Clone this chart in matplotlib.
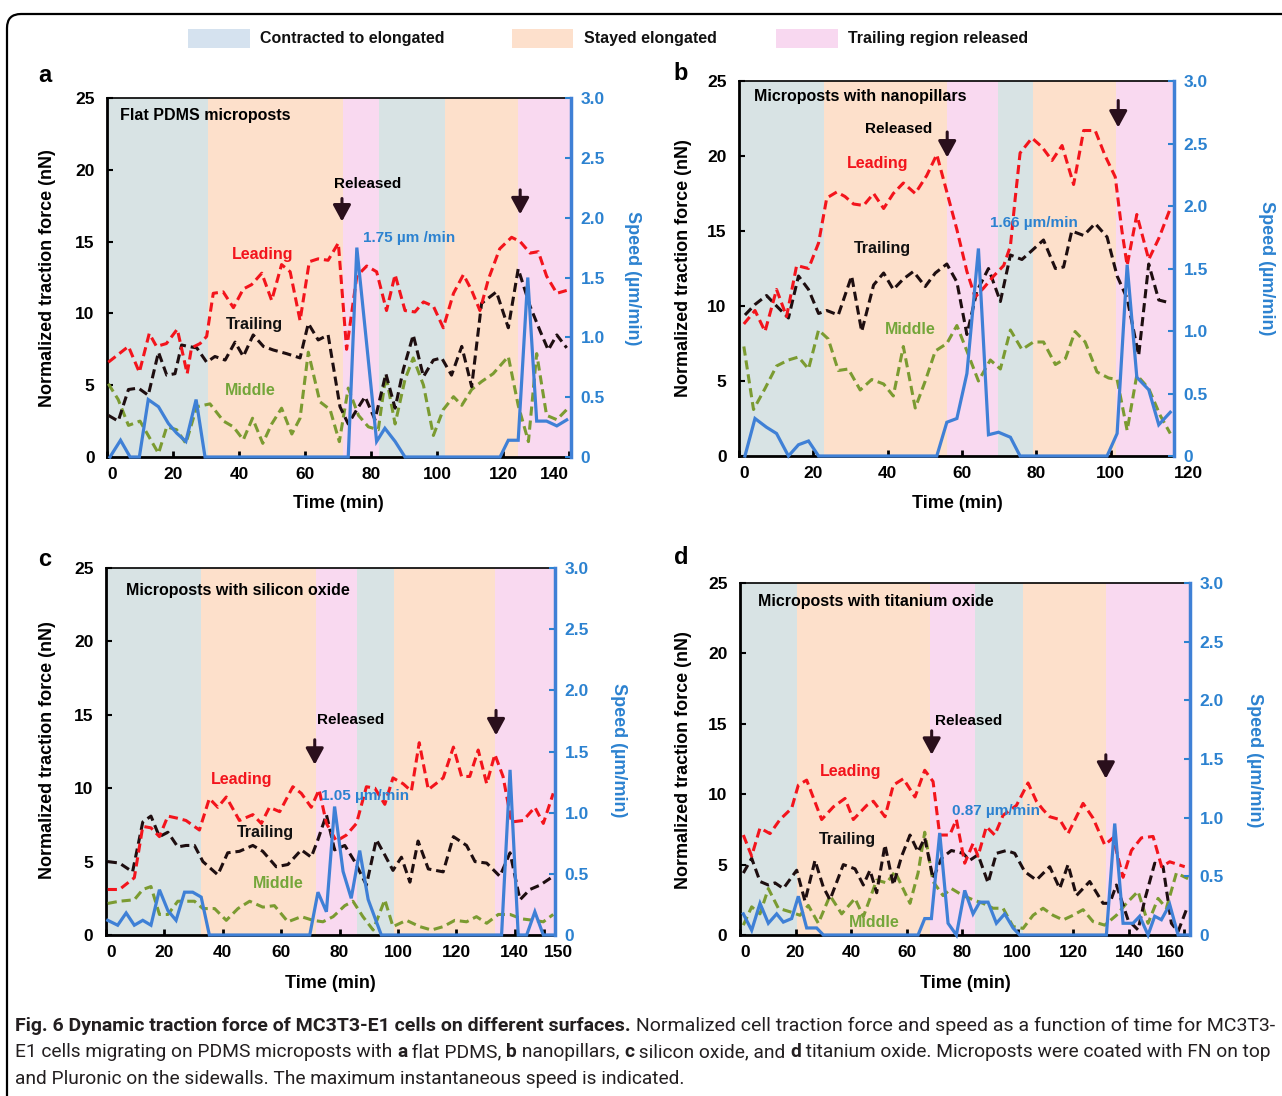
import numpy as np
import matplotlib
matplotlib.use('Agg')
import matplotlib.pyplot as plt
from matplotlib.patches import Rectangle, FancyBboxPatch
from matplotlib.transforms import IdentityTransform
from matplotlib import font_manager

# ---------------------------------------------------------------- data
# panel a : flat PDMS microposts
lead_a_t = [0.4, 6.5, 9.8, 12.8, 15, 18, 21.3, 24.3, 25.6, 28.2, 30.2, 32.2, 35.2, 38.3, 41.3, 43.8, 46.9,
            49.9, 52.9, 55.5, 58.5, 61.3, 64, 67, 70.1, 72.6, 75.7, 78.7, 81.7, 84.7, 87.3, 90.3, 93.3, 95.9,
            98.9, 101.9, 105, 108, 110.5, 113, 115.6, 119, 122.6, 125.2, 128.2, 130.7, 133.2, 136.3, 139.3]
lead_a = [6.6, 7.7, 5.9, 8.6, 7.7, 7.9, 8.9, 5.8, 7.6, 7.9, 8.4, 11.4, 11.5, 10.4, 11.7, 12.0, 12.8, 10.9,
          13.4, 12.9, 9.5, 13.6, 13.8, 13.7, 14.9, 7.5, 12.6, 13.3, 12.9, 10.2, 12.7, 10.2, 10.1, 10.8, 10.5,
          9.0, 11.4, 12.7, 11.6, 10.2, 12.4, 14.5, 15.3, 15.0, 14.2, 14.3, 12.6, 11.4, 11.6]
trail_a_t = [0.4, 3.4, 6.5, 9.5, 12.5, 15.6, 18.1, 20.6, 22.6, 24.6, 27.2, 30.2, 32.7, 35.8, 38.8, 41.3, 44.3,
             47.4, 50.4, 54.4, 58.5, 61, 64, 67, 70.6, 73.1, 75.7, 78.2, 81.2, 84.5, 87.3, 89.8, 92.8, 95.9,
             98.9, 101.4, 104.4, 107.5, 110.5, 113.5, 118, 121.6, 124.6, 128.2, 131.2, 133.7, 136.3, 139.3]
trail_a = [2.9, 2.5, 4.7, 4.8, 4.3, 7.3, 5.7, 5.8, 7.8, 7.7, 7.6, 6.6, 7.0, 6.75, 8.0, 7.0, 8.5, 7.7, 7.45,
           7.2, 6.9, 9.3, 8.15, 8.5, 3.5, 2.3, 3.3, 4.2, 2.6, 5.8, 3.4, 6.1, 8.5, 5.6, 6.75, 6.9, 5.7, 7.7,
           4.9, 10.7, 11.5, 9.0, 13.1, 10.5, 8.8, 7.45, 8.5, 7.6]
mid_a_t = [0.4, 3.4, 6.5, 10, 12.5, 15.6, 18.1, 21.1, 23.9, 27.2, 31.2, 35.3, 38.3, 41.3, 44.1, 47.2, 49.9,
           52.9, 56, 58.5, 61, 64.5, 67.6, 70.4, 73.1, 76.2, 79.2, 82.2, 84.5, 87.3, 90.3, 92.8, 95.9, 98.9,
           101.9, 105, 107.5, 110.5, 113.5, 117, 121.6, 124.6, 127.7, 130.2, 133.2, 136.3, 139.3]
mid_a = [5.1, 4.0, 2.2, 2.5, 1.5, 0.25, 2.1, 1.9, 0.95, 3.5, 3.7, 2.5, 2.1, 1.2, 2.7, 0.95, 2.3, 3.4, 1.6,
         2.7, 7.3, 3.85, 3.3, 1.07, 4.8, 2.9, 2.1, 1.9, 5.7, 2.3, 5.4, 6.9, 5.0, 1.5, 3.3, 4.2, 3.6, 4.7,
         5.25, 5.8, 7.0, 3.6, 1.07, 7.2, 2.9, 2.6, 3.3]
speed_a_t = [0.9, 4.1, 7, 9.8, 12.5, 15.6, 18.6, 21.1, 23.9, 27, 29.7, 73.1, 75.7, 81.7, 84.2, 87.3, 90.3,
             119.1, 121.6, 124.6, 127.5, 130.2, 133.2, 136.3, 139.3]
speed_a = [0, 0.14, 0, 0, 0.48, 0.42, 0.28, 0.2, 0.13, 0.48, 0, 0, 1.75, 0.13, 0.24, 0.13, 0, 0, 0.14, 0.14,
           1.5, 0.3, 0.3, 0.26, 0.31]
bands_a = [0, 30.6, 71.5, 82.4, 102.4, 124.5, 140.6]

# panel b : nanopillars
lead_b_t = [1.3, 4.3, 7, 10.1, 12.8, 15.5, 18.7, 21.4, 23.6, 26.3, 28.5, 30.8, 33.5, 36.2, 38.9, 41.5, 44.2,
            47.4, 50.5, 53.2, 55.9, 58.6, 61.3, 63.5, 65.8, 68.5, 71.2, 73, 74.3, 75.6, 78.8, 81.5, 84.2,
            86.9, 90, 92.7, 95.8, 98.5, 101.2, 103, 104.4, 107, 110.2, 112.9, 116]
lead_b = [8.8, 9.7, 8.3, 11.1, 9.3, 12.7, 12.5, 14.2, 17.2, 17.6, 17.3, 16.8, 16.7, 17.5, 16.5, 17.5, 18.2,
          17.5, 18.7, 20.1, 17.6, 15.1, 12.3, 10.6, 11.2, 12.0, 12.7, 14.0, 17.2, 20.2, 21.2, 20.6, 19.7,
          20.7, 18.1, 21.7, 21.7, 20.0, 18.6, 15.0, 12.7, 16.1, 13.1, 14.5, 16.5]
trail_b_t = [1.6, 4.3, 7.4, 10.1, 13.3, 16, 18.7, 21.4, 23.6, 26.7, 30.3, 33, 36.2, 38.9, 41.5, 44.2, 46.9,
             50.1, 52.8, 55.9, 58.6, 61.3, 64, 67.1, 70.3, 73, 76.1, 78.8, 81.9, 85.1, 87.3, 89.5, 92.7,
             95.8, 99, 101.7, 104.4, 107.5, 110.2, 112.9, 116]
trail_b = [9.4, 10.1, 10.7, 10.0, 9.2, 12.0, 11.1, 9.5, 9.7, 9.4, 12.0, 8.3, 11.4, 12.2, 11.1, 11.8, 12.3,
           11.3, 12.2, 12.8, 11.6, 8.1, 11.0, 12.5, 10.3, 13.4, 13.1, 13.7, 14.4, 12.5, 12.6, 15.0, 14.7,
           15.5, 14.6, 12.0, 10.5, 6.7, 12.8, 10.4, 10.2]
mid_b_t = [1.3, 3.9, 7, 10.1, 13.3, 16, 18.7, 21.4, 24, 26.7, 29.4, 32.6, 35.7, 38.9, 41.5, 44.2, 47.4, 50.1,
           52.8, 55.9, 58.6, 61.3, 64.4, 67.6, 70.3, 73, 76.1, 79.2, 81.9, 85.1, 87.8, 90.4, 93.1, 96.3,
           99.4, 101.7, 104.4, 107, 110.2, 113.3, 116]
mid_b = [7.3, 3.1, 4.5, 6.0, 6.4, 6.6, 5.8, 8.4, 7.8, 5.7, 5.8, 4.4, 5.1, 4.8, 4.0, 7.3, 3.2, 5.0, 7.0, 7.5,
         8.7, 7.0, 5.0, 6.4, 5.8, 8.4, 7.1, 7.6, 7.6, 6.1, 6.5, 8.3, 7.6, 5.6, 5.2, 5.1, 1.7, 5.4, 4.5, 2.7,
         1.5]
speed_b_t = [1.6, 4.3, 7.4, 10.1, 13.3, 16, 18.7, 21.4, 53.2, 55.9, 58.6, 61.3, 64.4, 67.1, 69.8, 73, 75.6,
             99, 101.7, 104.4, 107, 110.2, 112.9, 116]
speed_b = [0, 0.30, 0.23, 0.18, 0, 0.09, 0.12, 0, 0, 0.27, 0.30, 0.66, 1.66, 0.17, 0.19, 0.15, 0, 0, 0.18,
           1.53, 0.63, 0.53, 0.25, 0.35]
bands_b = [0, 22.9, 56, 69.7, 79.1, 101.5, 117]

# panel c : silicon oxide
lead_c_t = [0.6, 4.6, 9.7, 12.6, 15.4, 18.3, 21.2, 24.6, 27.4, 32, 35.4, 38.3, 41.2, 45.7, 50.3, 53.2, 56,
            59.5, 64, 66.9, 70.3, 73, 75.5, 78.9, 82.3, 85.8, 89.2, 92.1, 95.5, 98.3, 101.8, 104.6, 107.3,
            110.4, 115.5, 119, 121.8, 124.6, 127.5, 130.4, 133.2, 136, 138.9, 142.9, 146.9, 149.8, 153.2]
lead_c = [3.1, 3.1, 3.9, 7.4, 7.3, 6.7, 8.1, 7.95, 7.8, 7.15, 9.3, 8.7, 9.4, 7.8, 8.2, 7.6, 8.7, 8.4, 10.1,
          9.65, 8.7, 9.9, 7.6, 6.4, 6.8, 7.6, 10.1, 10.0, 8.9, 10.7, 10.3, 9.8, 13.1, 9.9, 10.7, 12.8, 10.8,
          10.8, 12.6, 10.3, 12.3, 10.8, 7.7, 7.8, 8.7, 7.6, 9.65]
trail_c_t = [0.6, 4.6, 9.1, 12.6, 15.4, 18.3, 21.2, 24.6, 27.4, 30.3, 33.2, 38.3, 41.7, 45.7, 50.3, 53.7,
             58.3, 62.3, 66.9, 70.3, 72.6, 75.5, 78.3, 81.8, 85.2, 89.2, 92.6, 95.5, 98.3, 101.2, 104.1,
             106.9, 110.4, 115.5, 119, 123.5, 126.4, 130.4, 134.9, 138.4, 141.8, 145.2, 148.7, 153.2]
trail_c = [5.0, 4.9, 4.3, 7.7, 8.1, 6.7, 7.0, 6.0, 6.1, 6.1, 5.0, 4.1, 5.6, 5.7, 6.1, 5.7, 4.65, 4.8, 5.8,
           5.3, 6.5, 8.2, 5.8, 6.1, 5.0, 3.4, 6.5, 5.45, 4.4, 5.3, 3.6, 6.4, 4.5, 4.3, 6.7, 6.1, 5.0, 4.9,
           4.0, 5.6, 2.4, 3.1, 3.4, 4.0]
mid_c_t = [0.6, 4.6, 9.7, 12.6, 15.4, 18.3, 21.2, 24.6, 27.4, 30.3, 33.2, 37.2, 41.2, 45.2, 49.2, 53.7, 57.7,
           62.3, 66.9, 70.9, 74.3, 77.8, 81.8, 84.6, 88, 91.5, 95.5, 98.3, 102.9, 107.5, 111.5, 115.5, 119.5,
           123.5, 126.9, 130.4, 134.4, 138.4, 142.4, 146.4, 149.8, 153.2]
mid_c = [2.15, 2.3, 2.4, 3.1, 3.3, 1.4, 1.4, 2.3, 2.3, 2.3, 1.8, 1.8, 1.0, 1.8, 2.3, 1.9, 2.0, 0.9, 1.25,
         1.0, 0.9, 1.25, 2.0, 2.3, 1.25, 0.34, 2.4, 0.57, 1.0, 0.57, 0.34, 0.57, 1.0, 0.9, 1.25, 0.8, 1.4,
         1.4, 1.1, 1.0, 0.9, 1.4]
speed_c_t = [0.6, 4, 6.9, 9.7, 12.6, 15.4, 18.3, 21.2, 24, 26.9, 29.7, 32.6, 35.4, 69.8, 72.6, 75.5, 78.3,
             81.2, 84, 86.9, 89.8, 94.3, 135.5, 138.4, 141.2, 144.1, 146.9, 149.8, 153.2]
speed_c = [0.12, 0.08, 0.18, 0.08, 0.12, 0.08, 0.37, 0.2, 0.12, 0.35, 0.35, 0.31, 0, 0, 0.35, 0.19, 1.05,
           0.52, 0.3, 0.69, 0.29, 0, 0, 1.35, 0, 0, 0.19, 0, 0]
bands_c = [0, 32.6, 72, 86, 98.6, 133.4, 153.8]

# panel d : titanium oxide
lead_d_t = [1.2, 4.2, 7.2, 10.8, 14.4, 18.6, 21, 24, 29.4, 33.6, 37.8, 40.8, 45.6, 48, 52.2, 55.2, 58.8, 63,
            66.5, 69.5, 71.9, 75.5, 77.9, 80.9, 83.9, 85.7, 88.7, 91.7, 94.7, 99.5, 103.7, 106.7, 109.1,
            111.5, 115.1, 118.1, 123.5, 127.1, 131.3, 134.3, 137.9, 140.9, 144.5, 148.7, 151.8, 154.7, 160.1]
lead_d = [7.1, 5.6, 7.6, 7.2, 8.2, 9.0, 10.65, 11.0, 8.2, 9.1, 9.7, 8.2, 9.2, 9.5, 8.4, 10.65, 11.1, 9.8,
          11.7, 10.9, 7.1, 7.1, 8.2, 5.1, 6.5, 5.6, 7.7, 7.1, 8.5, 9.2, 10.8, 9.5, 8.9, 8.4, 8.2, 7.2, 9.35,
          8.3, 6.4, 6.9, 4.1, 6.0, 6.9, 7.0, 4.85, 5.2, 4.85]
trail_d_t = [1.2, 4.2, 7.2, 10.2, 12.6, 15.6, 20.4, 23.4, 27, 30, 32.4, 37.2, 41.4, 44.4, 46.8, 49.2, 52.2,
             55.2, 58.2, 61.2, 64.1, 66.5, 69.5, 72.5, 76.1, 80.3, 82.7, 85.7, 89.3, 92.3, 95.9, 98.9,
             102.5, 106.7, 111.5, 115.1, 118.1, 121.1, 125.9, 130.7, 133.1, 135.5, 139.7, 143.3, 145.7,
             149.3, 152.3, 155.3, 157.7, 160.7]
trail_d = [4.4, 5.45, 3.8, 3.55, 3.7, 3.3, 4.6, 2.4, 5.3, 3.4, 2.5, 5.0, 4.7, 3.55, 4.6, 3.0, 6.4, 3.55,
           5.6, 7.1, 5.9, 6.9, 4.0, 5.45, 6.0, 5.8, 5.3, 5.7, 3.7, 5.8, 6.0, 5.8, 4.5, 3.9, 4.85, 3.3, 5.0,
           2.8, 3.8, 2.25, 2.25, 3.55, 1.07, 0.36, 2.5, 5.1, 4.85, 0.83, 0.24, 1.8]
mid_d_t = [1.2, 4.2, 7.2, 10.2, 13.8, 18, 21.6, 24.6, 28.2, 32.4, 36.6, 41.4, 44.4, 49.2, 52.8, 55.8, 61.2,
           64.1, 66.5, 69.5, 73.1, 76.1, 80.3, 83.9, 87.5, 91.1, 94.7, 98.3, 101.9, 105.5, 109.1, 112.7,
           116.3, 119.9, 123.5, 127.1, 131.3, 135.5, 139.1, 143.3, 146.9, 150.5, 153.5, 157.1, 161.3]
mid_d = [0.7, 2.0, 1.5, 3.3, 1.9, 1.65, 1.4, 2.1, 0.83, 2.8, 1.5, 2.6, 1.3, 3.9, 3.7, 4.5, 2.25, 4.4, 7.3,
         3.8, 2.8, 3.3, 2.8, 2.5, 2.25, 1.9, 1.9, 0.6, 0.47, 1.4, 1.9, 1.4, 1.07, 1.4, 1.8, 0.95, 0.7, 1.4,
         2.25, 3.1, 0.83, 2.6, 1.9, 4.4, 4.0]
speed_d_t = [1.2, 4.2, 7.2, 10.2, 13.2, 15.6, 18.6, 21, 24, 27.6, 30, 64.1, 66.5, 68.9, 71.9, 74.9, 77.9,
             80.9, 83.9, 86.3, 89.3, 92.3, 95.3, 98.3, 100.7, 131.9, 134.9, 137.9, 141.5, 143.9, 146.9,
             149.3, 151.7, 154.7, 157.7, 161.3]
speed_d = [0.18, 0.04, 0.27, 0.1, 0.18, 0.11, 0.14, 0.33, 0.06, 0.06, 0, 0, 0.14, 0.14, 0.87, 0.1, 0, 0.38,
           0.18, 0.28, 0.28, 0.1, 0.18, 0.06, 0, 0, 0.95, 0.1, 0.1, 0.16, 0, 0.16, 0.13, 0.26, 0, 0]
bands_d = [0, 20.7, 68.3, 84.7, 102, 131.9, 162]

band_kinds = ['c', 's', 'r', 'c', 's', 'r']
legend_labels = ['Contracted to elongated', 'Stayed elongated', 'Trailing region released']
force_ticks = [0, 5, 10, 15, 20, 25]
speed_ticks = [0, 0.5, 1.0, 1.5, 2.0, 2.5, 3.0]
speed_ticklabels = ['0', '0.5', '1.0', '1.5', '2.0', '2.5', '3.0']
titles = ['Flat PDMS microposts', 'Microposts with nanopillars',
          'Microposts with silicon oxide', 'Microposts with titanium oxide']
max_speed_labels = ['1.75 \u00b5m /min', '1.66 \u00b5m/min', '1.05 \u00b5m/min', '0.87 \u00b5m/min']

# ---------------------------------------------------------------- style
W, H = 1282, 1096
BAND = {'c': '#d8e3e4', 's': '#fde0cb', 'r': '#f9d9f0'}
LEG = ['#d5e2ef', '#fde0cc', '#f8d8f0']
RED = '#f3141c'
BLK = '#1e0e10'
GRN = '#7b9b31'
GRN_T = '#74a63a'
BLUE = '#3f80d6'
BLUE_T = '#2c82d0'
ARROW = '#2a0f1c'

plt.rcParams['font.family'] = ['Liberation Sans', 'DejaVu Sans']
plt.rcParams['font.weight'] = 'bold'

fig = plt.figure(figsize=(W / 100, H / 100), dpi=100)


def frect(l, t, r, b):
    return [l / W, 1 - b / H, (r - l) / W, (b - t) / H]


def fpt(x, y):
    return x / W, 1 - y / H


def font_ok(name):
    try:
        font_manager.findfont(font_manager.FontProperties(family=name), fallback_to_default=False)
        return True
    except Exception:
        return False


# caption layer (bottom-most)
cap_ax = fig.add_axes([0, 0, 1, 1])
cap_ax.set_axis_off()

# outer rounded frame
frame = FancyBboxPatch((7, -40), 1340, H - 14 + 40, boxstyle='round,pad=0,rounding_size=14',
                       transform=IdentityTransform(), fc='none', ec='black', lw=1.6)
fig.add_artist(frame)

# legend
for (l, r), col, lab, tx in zip([(188, 250), (512, 573), (776, 838)], LEG, legend_labels, [260, 584, 848]):
    fig.add_artist(Rectangle(fpt(l, 48), (r - l) / W, 19 / H, transform=fig.transFigure, fc=col, ec='none'))
    fig.text(*fpt(tx, 39), lab, fontsize=11.5, fontweight='bold', va='center', ha='left', color='#111111')


def make_panel(box, xlim, xticks, xticklabels, last_ha, edges, lead, trail, mid, speed):
    ax = fig.add_axes(frect(*box))
    ax.set_xlim(*xlim)
    ax.set_ylim(0, 25)
    for i, k in enumerate(band_kinds):
        ax.axvspan(edges[i], edges[i + 1], color=BAND[k], lw=0, zorder=0)
    dash = (0, (3, 1.6))
    ax.plot(mid[0], mid[1], color=GRN, lw=2.2, ls=dash, zorder=3)
    ax.plot(trail[0], trail[1], color=BLK, lw=2.2, ls=dash, zorder=3)
    ax.plot(lead[0], lead[1], color=RED, lw=2.2, ls=dash, zorder=3)
    ax.set_yticks(force_ticks)
    ax.tick_params(axis='y', direction='in', length=4, width=1.5, pad=9, labelsize=12.5, colors='black')
    ax.set_xticks(xticks, xticklabels)
    ax.tick_params(axis='x', direction='in', length=4, width=2, pad=7, labelsize=12.5, colors='black')
    labs = ax.get_xticklabels()
    labs[0].set_ha('left')
    labs[-1].set_ha(last_ha)
    for lab in ax.get_xticklabels() + ax.get_yticklabels():
        lab.set_fontweight('bold')
    ax.spines['right'].set_visible(False)
    ax.spines['left'].set_linewidth(2)
    ax.spines['bottom'].set_linewidth(2)
    ax.spines['top'].set_linewidth(1.2)

    ax2 = ax.twinx()
    ax2.set_ylim(0, 3)
    ax2.plot(speed[0], speed[1], color=BLUE, lw=2.3, clip_on=False, zorder=4, solid_joinstyle='miter')
    ax2.set_yticks(speed_ticks, speed_ticklabels)
    ax2.tick_params(axis='y', direction='in', length=4, width=1.5, pad=7, labelsize=12.5, colors=BLUE_T)
    for lab in ax2.get_yticklabels():
        lab.set_fontweight('bold')
    for s in ['left', 'top', 'bottom']:
        ax2.spines[s].set_visible(False)
    ax2.spines['right'].set_color(BLUE)
    ax2.spines['right'].set_linewidth(2.5)
    return ax, ax2


def annotate_panel(ax, title, title_xy, rel_xy, arrows, lead_xy, trail_xy, mid_xy, spd_xy, spd_txt):
    ax.text(*title_xy, title, fontsize=11.5, fontweight='bold', ha='left', va='center', zorder=6)
    ax.text(*rel_xy, 'Released', fontsize=11, fontweight='bold', ha='center', va='center', zorder=6)
    for (t, y0, y1) in arrows:
        ax.annotate('', xy=(t, y1), xytext=(t, y0),
                    arrowprops=dict(arrowstyle='-|>,head_length=0.55,head_width=0.3', color=ARROW,
                                    lw=2.2, shrinkA=0, shrinkB=0, mutation_scale=18), zorder=6)
    ax.text(*lead_xy, 'Leading', color=RED, fontsize=11.5, fontweight='bold', ha='center', va='center', zorder=6)
    ax.text(*trail_xy, 'Trailing', color='#111111', fontsize=11.5, fontweight='bold', ha='center', va='center',
            zorder=6)
    ax.text(*mid_xy, 'Middle', color=GRN_T, fontsize=11.5, fontweight='bold', ha='center', va='center', zorder=6)
    ax.text(*spd_xy, spd_txt, color=BLUE_T, fontsize=11, fontweight='bold', ha='left', va='center', zorder=6)


# panel a
axa, _ = make_panel((107, 98, 571, 457), (0, 140.6), [0, 20, 40, 60, 80, 100, 120, 140],
                    ['0', '20', '40', '60', '80', '100', '120', '140'], 'right', bands_a,
                    (lead_a_t, lead_a), (trail_a_t, trail_a), (mid_a_t, mid_a), (speed_a_t, speed_a))
annotate_panel(axa, titles[0], (3.9, 23.8), (79, 19.0), [(71.2, 18.0, 16.4), (125.2, 18.6, 16.9)],
               (47.3, 14.1), (44.8, 9.2), (43.3, 4.6), (77.6, 15.25), max_speed_labels[0])

# panel b
axb, _ = make_panel((739, 81, 1174, 456), (0, 117), [0, 20, 40, 60, 80, 100, 117],
                    ['0', '20', '40', '60', '80', '100', '120'], 'left', bands_b,
                    (lead_b_t, lead_b), (trail_b_t, trail_b), (mid_b_t, mid_b), (speed_b_t, speed_b))
annotate_panel(axb, titles[1], (4.0, 24.0), (42.8, 21.8), [(56, 21.6, 19.9), (102, 23.7, 21.9)],
               (37.4, 19.5), (38.5, 13.8), (46, 8.4), (67.6, 15.5), max_speed_labels[1])

# panel c
axc, _ = make_panel((106, 568, 555, 935), (0, 153.8), [0, 20, 40, 60, 80, 100, 120, 140, 150],
                    ['0', '20', '40', '60', '80', '100', '120', '140', '150'], 'left', bands_c,
                    (lead_c_t, lead_c), (trail_c_t, trail_c), (mid_c_t, mid_c), (speed_c_t, speed_c))
annotate_panel(axc, titles[2], (7.0, 23.5), (83.8, 14.65), [(71.5, 13.3, 11.6), (133.6, 15.3, 13.6)],
               (46.5, 10.6), (54.7, 6.95), (59.1, 3.5), (73.6, 9.5), max_speed_labels[2])

# panel d
axd, _ = make_panel((740, 583, 1190, 935), (0, 162), [0, 20, 40, 60, 80, 100, 120, 140, 160],
                    ['0', '20', '40', '60', '80', '100', '120', '140', '160'], 'right', bands_d,
                    (lead_d_t, lead_d), (trail_d_t, trail_d), (mid_d_t, mid_d), (speed_d_t, speed_d))
annotate_panel(axd, titles[3], (6.5, 23.7), (82.4, 15.2), [(69, 14.5, 12.8), (131.7, 12.8, 11.1)],
               (40, 11.6), (38.8, 6.8), (48.2, 0.9), (76.3, 8.8), max_speed_labels[3])

# panel letters and axis titles
for let, (x, y) in zip('abcd', [(45, 75), (681, 73), (45, 560), (681, 558)]):
    fig.text(*fpt(x, y), let, fontsize=17, fontweight='bold', ha='center', va='center')
for (x, y) in [(48, 278), (683, 268), (48, 750), (683, 760)]:
    fig.text(*fpt(x, y), 'Normalized traction force (nN)', fontsize=13, fontweight='bold', rotation=90,
             ha='center', va='center')
for (x, y) in [(632, 278), (1266, 268), (618, 750), (1254, 760)]:
    fig.text(*fpt(x, y), 'Speed (\u00b5m/min)', fontsize=13, fontweight='bold', rotation=270,
             ha='center', va='center', color=BLUE_T)
for (x, y) in [(338, 503), (957, 503), (330, 984), (965, 984)]:
    fig.text(*fpt(x, y), 'Time (min)', fontsize=13, fontweight='bold', ha='center', va='center')

# caption with mixed weights, each full line fitted to the text width
if font_ok('Liberation Sans Narrow'):
    CAP_FONT = 'Liberation Sans Narrow'
elif font_ok('Roboto'):
    CAP_FONT = 'Roboto'
else:
    CAP_FONT = 'Open Sans'
cap_lines = [
    [("Fig. 6 Dynamic traction force of MC3T3-E1 cells on different surfaces.", 'bold'),
     (" Normalized cell traction force and speed as a function of time for MC3T3-", 'normal')],
    [("E1 cells migrating on PDMS microposts with ", 'normal'), ("a", 'bold'), (" flat PDMS, ", 'normal'),
     ("b", 'bold'), (" nanopillars, ", 'normal'), ("c", 'bold'), (" silicon oxide, and ", 'normal'),
     ("d", 'bold'), (" titanium oxide. Microposts were coated with FN on top", 'normal')],
    [("and Pluronic on the sidewalls. The maximum instantaneous speed is indicated.", 'normal')],
]
fs0 = 12
line_texts = []
for y, runs in zip([1026, 1052, 1079], cap_lines):
    prev = None
    texts = []
    for s, w in runs:
        if prev is None:
            t = cap_ax.text(*fpt(15, y), s, transform=fig.transFigure, ha='left', va='center',
                            fontsize=fs0, fontweight=w, family=[CAP_FONT, 'DejaVu Sans'], color='#231f20')
        else:
            t = cap_ax.annotate(s, xy=(1, 0), xycoords=prev, ha='left', va='bottom',
                                fontsize=fs0, fontweight=w, family=[CAP_FONT, 'DejaVu Sans'], color='#231f20')
        texts.append(t)
        prev = t
    line_texts.append(texts)

TARGET = 1272 - 15
sizes = [fs0, fs0]
for _ in range(3):
    fig.canvas.draw()
    for i, texts in enumerate(line_texts[:2]):
        x_end = texts[-1].get_window_extent().x1
        sizes[i] = min(sizes[i] * TARGET / max(x_end - 15, 1), 14)
        for t in texts:
            t.set_fontsize(sizes[i])
for t in line_texts[2]:
    t.set_fontsize(min(sizes))

fig.savefig('out.png', dpi=100)
